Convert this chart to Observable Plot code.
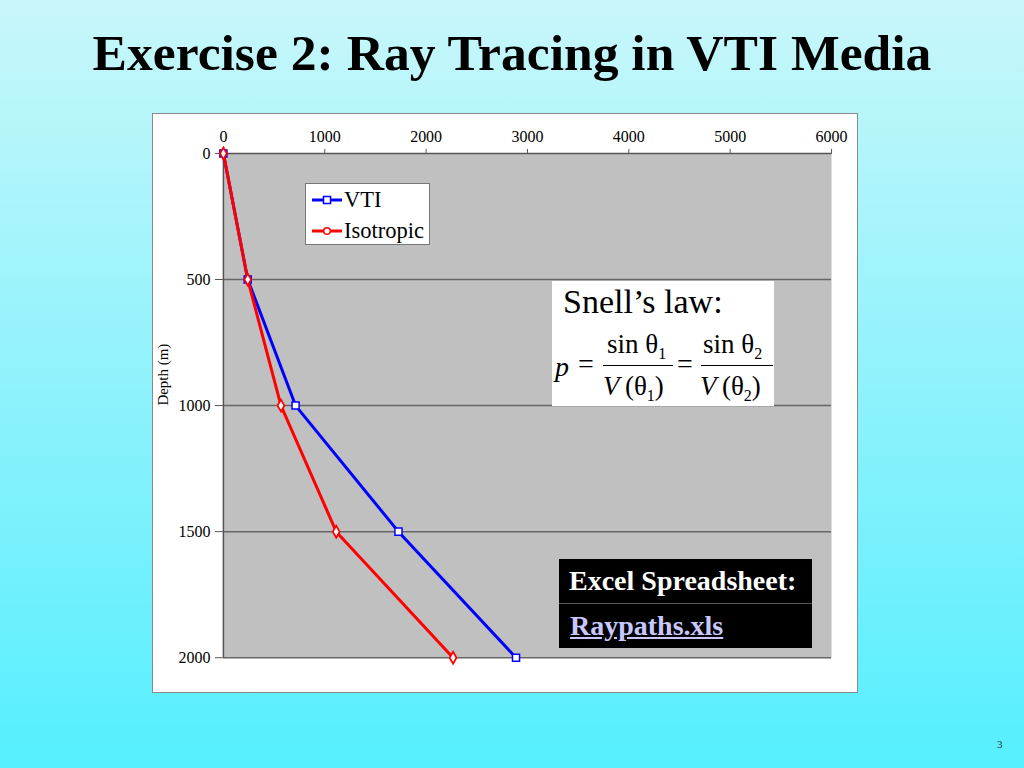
<!DOCTYPE html>
<html>
<head>
<meta charset="utf-8">
<script src="https://cdn.jsdelivr.net/npm/d3@7"></script>
<script src="https://cdn.jsdelivr.net/npm/@observablehq/plot@0.6"></script>
<style>
  html, body { margin: 0; padding: 0; }
  body {
    width: 1024px; height: 768px; position: relative; overflow: hidden;
    background: linear-gradient(to bottom, #c8f7fa 0%, #8ff2fc 50%, #55effe 100%);
    font-family: "Liberation Serif", "Times New Roman", serif;
  }
  #title {
    position: absolute; left: 0; width: 1024px; top: 27px; text-align: center;
    font-size: 51.6px; line-height: 52px; font-weight: bold; color: #000;
  }
  #chartbox {
    position: absolute; left: 152px; top: 113px; width: 704px; height: 578px;
    background: #fff; border: 1px solid #8a8a8a;
  }
  #chart { position: absolute; left: -1px; top: -1px; }
  #chart svg text { font-family: "Liberation Serif", "Times New Roman", serif; }
  .abs { position: absolute; white-space: nowrap; }
  #legend {
    position: absolute; left: 305px; top: 183px; width: 123px; height: 60px;
    background: #fff; border: 1px solid #777; font-size: 22.5px; line-height: 22px;
  }
  #snell {
    position: absolute; left: 552px; top: 281px; width: 222px; height: 125px; background: #fff;
    font-family: "Liberation Serif", "Times New Roman", serif; color: #000;
  }
  #excel {
    position: absolute; left: 559px; top: 559px; width: 253px; height: 89px; background: #000;
    font-weight: bold; font-size: 28px; color: #fff;
  }
  #pagenum { position: absolute; left: 997px; top: 738px; font-size: 11px; color: #333; }
  .sub { font-size: 16px; position: relative; top: 6px; }
</style>
</head>
<body>
<div id="title">Exercise 2: Ray Tracing in VTI Media</div>
<div id="chartbox"><div id="chart"></div></div>
<div id="legend"></div>
<div id="snell">
  <div class="abs" style="left:11px; top:2px; font-size:34px; line-height:38px;">Snell’s law:</div>
  <div class="abs" style="left:3px; top:70px; font-size:28px; font-style:italic;">p</div>
  <div class="abs" style="left:26px; top:67px; font-size:28px;">=</div>
  <div class="abs" style="left:55px; top:48px; font-size:27px; line-height:30px;">sin θ<span class="sub">1</span></div>
  <div class="abs" style="left:51px; top:84px; width:70px; height:1px; background:#000;"></div>
  <div class="abs" style="left:51px; top:90px; font-size:27px; line-height:30px;"><i>V</i>&#8201;(θ<span class="sub">1</span>)</div>
  <div class="abs" style="left:125px; top:67px; font-size:28px;">=</div>
  <div class="abs" style="left:151px; top:48px; font-size:27px; line-height:30px;">sin θ<span class="sub">2</span></div>
  <div class="abs" style="left:149px; top:84px; width:72px; height:1px; background:#000;"></div>
  <div class="abs" style="left:148px; top:90px; font-size:27px; line-height:30px;"><i>V</i>&#8201;(θ<span class="sub">2</span>)</div>
</div>
<div id="excel">
  <div class="abs" style="left:10px; top:6px; line-height:32px;">Excel Spreadsheet:</div>
  <div class="abs" style="left:0; top:44px; width:253px; height:1px; background:#555;"></div>
  <div class="abs" style="left:11px; top:51px; line-height:32px; color:#c8c8ff; text-decoration:underline;">Raypaths.xls</div>
</div>
<div id="pagenum">3</div>
<script>
// ---- data ----
const depth = [0, 500, 1000, 1500, 2000];
const vtiOffset = [0, 240, 712, 1727, 2887];
const isoOffset = [0, 240, 568, 1113, 2266];
const xTicks = [0, 1000, 2000, 3000, 4000, 5000, 6000];
const yTicks = [0, 500, 1000, 1500, 2000];
const seriesNames = ["VTI", "Isotropic"];
const yLabel = ["Depth (m)"];

const vti = depth.map((d, i) => ({x: vtiOffset[i], y: d}));
const iso = depth.map((d, i) => ({x: isoOffset[i], y: d}));

const plot = Plot.plot({
  width: 706, height: 580,
  marginLeft: 71, marginRight: 26, marginTop: 40, marginBottom: 35,
  style: {background: "transparent", fontFamily: "Liberation Serif, Times New Roman, serif", fontSize: "16px", color: "#000"},
  x: {domain: [0, 6000]},
  y: {domain: [0, 2000], reverse: true},
  marks: [
    Plot.frame({fill: "#c0c0c0", stroke: null}),
    Plot.ruleY(yTicks.filter(d => d > 0), {stroke: "#666", strokeWidth: 1.5}),
    Plot.ruleY([0], {stroke: "#555", strokeWidth: 1.5}),
    Plot.ruleX([0], {stroke: "#555", strokeWidth: 1.5}),
    Plot.axisX({anchor: "top", ticks: xTicks, tickSize: 5, tickPadding: 6, label: null, tickFormat: d => String(d), stroke: "#555", fill: "#000", fontSize: 16}),
    Plot.axisY({anchor: "left", ticks: yTicks, tickSize: 8, tickPadding: 5, label: null, tickFormat: d => String(d), stroke: "#555", fill: "#000", fontSize: 16}),
    Plot.text(yLabel, {frameAnchor: "left", text: d => d, rotate: -90, dx: -60, fontSize: 15}),
    Plot.line(vti, {x: "x", y: "y", stroke: "#0000ff", strokeWidth: 3}),
    Plot.line(iso, {x: "x", y: "y", stroke: "#ff0000", strokeWidth: 3}),
    Plot.dot(vti, {x: "x", y: "y", symbol: "square", r: 4, fill: "#fff", stroke: "#0000ff", strokeWidth: 1.5}),
    Plot.dot(iso, {x: "x", y: "y", symbol: "diamond", r: 3.6, fill: "#fff", stroke: "#ff0000", strokeWidth: 1.8})
  ]
});
document.getElementById("chart").appendChild(plot);

// legend
const leg = document.getElementById("legend");
const colors = ["#0000ff", "#ff0000"];
seriesNames.forEach((name, i) => {
  const row = document.createElement("div");
  row.style.cssText = `position:absolute; left:5px; top:${3 + i * 31}px; display:flex; align-items:center; height:26px;`;
  const svg = d3.create("svg").attr("width", 32).attr("height", 14);
  svg.append("line").attr("x1", 1).attr("x2", 31).attr("y1", 7).attr("y2", 7).attr("stroke", colors[i]).attr("stroke-width", 3);
  svg.append("path").attr("transform", "translate(16,7)")
    .attr("d", d3.symbol(i === 0 ? d3.symbolSquare : d3.symbolCircle, i === 0 ? 50 : 34)())
    .attr("fill", "#fff").attr("stroke", colors[i]).attr("stroke-width", 1.5);
  row.appendChild(svg.node());
  const t = document.createElement("span");
  t.textContent = name;
  t.style.marginLeft = "1px";
  row.appendChild(t);
  leg.appendChild(row);
});
</script>
</body>
</html>
